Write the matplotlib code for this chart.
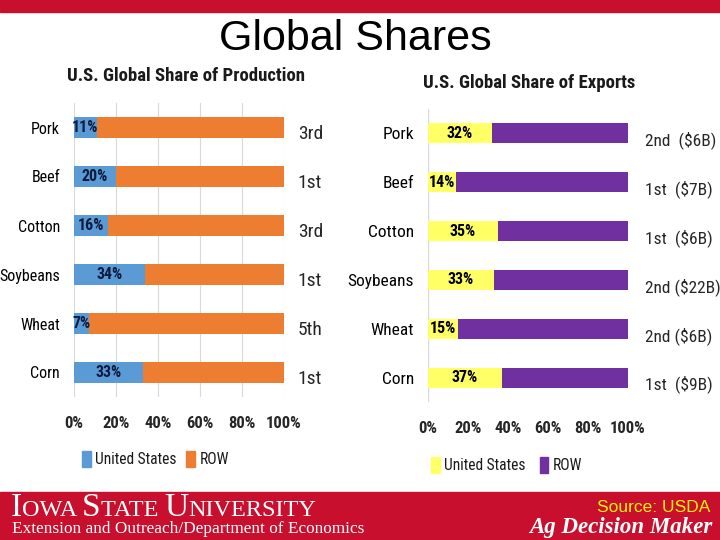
import matplotlib
matplotlib.use("Agg")
import matplotlib.pyplot as plt
from matplotlib import font_manager
from matplotlib.patches import Rectangle
from matplotlib.offsetbox import TextArea, HPacker, AnchoredOffsetbox

# ---------------- data ----------------
categories = ["Pork", "Beef", "Cotton", "Soybeans", "Wheat", "Corn"]
prod_us = [11, 20, 16, 34, 7, 33]
prod_row = [89, 80, 84, 66, 93, 67]
prod_rank = ["3rd", "1st", "3rd", "1st", "5th", "1st"]
exp_us = [32, 14, 35, 33, 15, 37]
exp_row = [68, 86, 65, 67, 85, 63]
exp_rank = ["2nd  ($6B)", "1st  ($7B)", "1st  ($6B)", "2nd ($22B)", "2nd ($6B)", "1st  ($9B)"]
xticks = [0, 20, 40, 60, 80, 100]
xtick_labels = ["0%", "20%", "40%", "60%", "80%", "100%"]
series_names = ["United States", "ROW"]


def pick(names):
    for n in names:
        try:
            font_manager.findfont(font_manager.FontProperties(family=n), fallback_to_default=False)
            return n
        except Exception:
            pass
    return "DejaVu Sans"

NARROW = pick(["Liberation Sans Narrow", "Roboto Condensed", "DejaVu Sans"])
SANS = pick(["Liberation Sans", "Arimo", "DejaVu Sans"])
SERIF = pick(["Liberation Serif", "DejaVu Serif"])

W, H = 720, 540
fig = plt.figure(figsize=(7.2, 5.4), dpi=100)
fig.patch.set_facecolor("white")

RED = "#C8102E"

def px_axes(x0, y0, x1, y1):
    return fig.add_axes([x0 / W, 1 - y1 / H, (x1 - x0) / W, (y1 - y0) / H])

# top red bar
fig.patches.append(Rectangle((0, 1 - 12 / H), 1, 12 / H, transform=fig.transFigure,
                             color=RED, zorder=0))
# bottom banner
fig.patches.append(Rectangle((0, 0), 1, 48 / H, transform=fig.transFigure,
                             color=RED, zorder=0))

fig.text(355 / W, 1 - 39 / H, "Global Shares", family=SANS, fontsize=31,
         ha="center", va="center", color="black")


def draw_panel(ax, us, row, ranks, c_us, c_row, lab_color, grid, title, title_y,
               title_fs, rank_x, rank_fs, cat_fs, legend_y, legend_x, colsp):
    y = list(range(len(categories)))
    ax.barh(y, us, height=0.41, color=c_us, zorder=2)
    ax.barh(y, row, left=us, height=0.41, color=c_row, zorder=2)
    ax.set_ylim(len(categories) - 0.5, -0.5)
    ax.set_xlim(0, 100)
    for i, v in enumerate(us):
        ax.text(v / 2, i, f"{v}%", ha="center", va="center", family=NARROW,
                fontsize=11.5, fontweight="bold", color=lab_color, zorder=3)
    for i, r in enumerate(ranks):
        ax.annotate(r, xy=(1, i), xycoords=("axes fraction", "data"),
                    xytext=(rank_x, -5), textcoords="offset points",
                    ha="left", va="center", family=NARROW, fontsize=rank_fs,
                    color="#262626")
    ax.set_yticks(y)
    ax.set_yticklabels(categories, family=NARROW, fontsize=cat_fs, color="black")
    ax.set_xticks(xticks)
    ax.set_xticklabels(xtick_labels, family=NARROW, fontsize=12, color="#262626",
                       fontweight="bold")
    ax.tick_params(length=0, pad=10)
    ax.tick_params(axis="x", pad=14)
    for s in ax.spines.values():
        s.set_visible(False)
    if grid:
        ax.grid(axis="x", color="#D9D9D9", lw=0.8, zorder=0)
    else:
        ax.axvline(0, color="#D9D9D9", lw=1.0, zorder=1)
    ax.set_facecolor("none")
    fig.text(title[1] / W, 1 - title_y / H, title[0], family=NARROW, fontsize=title_fs,
             fontweight="bold", ha="center", va="center", color="#1a1a1a")
    handles = [Rectangle((0, 0), 1, 1, color=c_us), Rectangle((0, 0), 1, 1, color=c_row)]
    fig.legend(handles, series_names, loc="center left",
               bbox_to_anchor=(legend_x / W, 1 - legend_y / H), ncol=2, frameon=False,
               prop=font_manager.FontProperties(family=NARROW, size=11.2),
               handlelength=0.55, handleheight=1.2, handletextpad=0.3,
               columnspacing=colsp, borderaxespad=0, borderpad=0, labelcolor="#1a1a1a")


ax1 = px_axes(74, 103, 284, 397)
draw_panel(ax1, prod_us, prod_row, prod_rank, "#5B9BD5", "#ED7D31", "#0d1b3e", True,
           ("U.S. Global Share of Production", 186), 76, 13.5, 10, 14, 11.5, 459, 82, 0.6)

ax2 = px_axes(428, 109, 628, 402)
draw_panel(ax2, exp_us, exp_row, exp_rank, "#FFFF66", "#7030A0", "black", False,
           ("U.S. Global Share of Exports", 529), 83, 13.5, 12, 12.5, 12.5, 465, 431, 0.9)

# ---- bottom banner text ----
big, small = 24, 17.5
parts = [("I", big), ("OWA ", small), ("S", big), ("TATE ", small), ("U", big), ("NIVERSITY", small)]
areas = [TextArea(t, textprops=dict(family=SERIF, fontsize=s, color="white")) for t, s in parts]
pack = HPacker(children=areas, align="baseline", pad=0, sep=0)
ab = AnchoredOffsetbox(loc="center left", child=pack, pad=0, frameon=False,
                       bbox_to_anchor=(11 / W, 1 - 508 / H), bbox_transform=fig.transFigure,
                       borderpad=0)
fig.add_artist(ab)

fig.text(12 / W, 1 - 529 / H, "Extension and Outreach/Department of Economics",
         family=SERIF, fontsize=12.4, color="white", ha="left", va="center")
fig.text(710 / W, 1 - 507 / H, "Source: USDA", family=SANS, fontsize=12.5,
         color="#FFF200", ha="right", va="center")
fig.text(712 / W, 1 - 527 / H, "Ag Decision Maker", family=SERIF, fontsize=16.5,
         fontweight="bold", style="italic", color="white", ha="right", va="center")

fig.savefig("out.png", dpi=100)
